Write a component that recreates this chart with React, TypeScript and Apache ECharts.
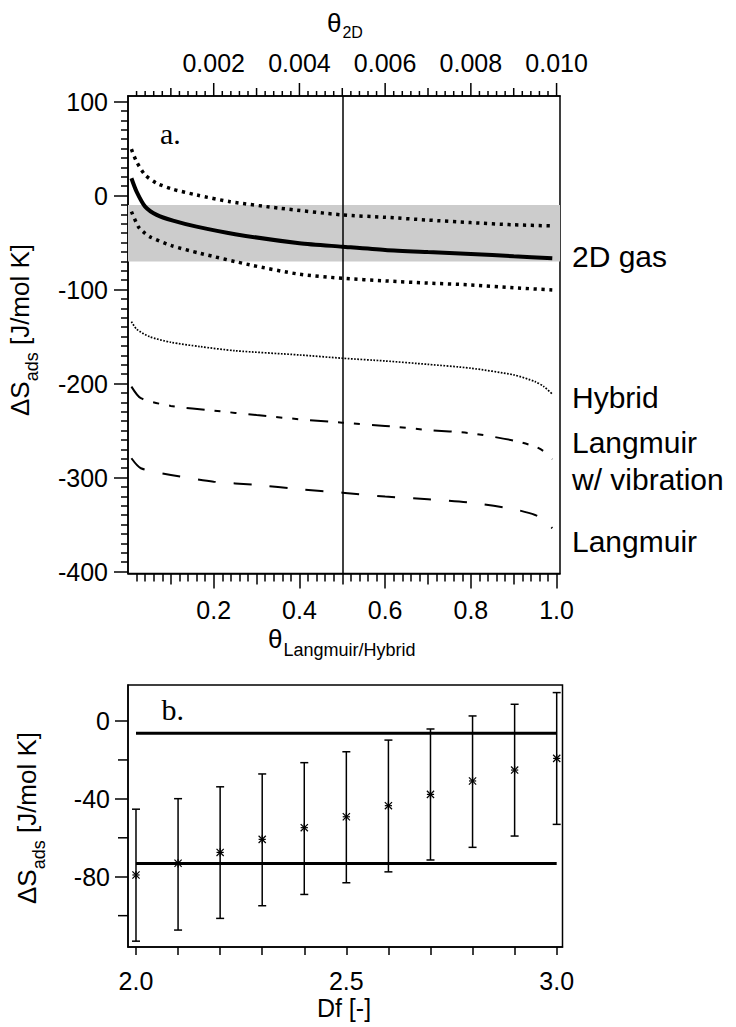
import React, { useEffect, useRef } from 'react';
import * as echarts from 'echarts';

const SANS = "'Liberation Sans', Arial, Helvetica, sans-serif";
const SERIF = "'Liberation Serif', 'Times New Roman', serif";

// ---------- Panel a data ----------
const upperX = [0.008, 0.02, 0.04, 0.067, 0.105, 0.16, 0.238, 0.354, 0.5, 0.6, 0.7, 0.8, 0.9, 0.99];
const upperY = [49.4, 36.2, 22, 13.2, 6.8, 0.7, -6.4, -13.4, -20.5, -23, -26, -28.7, -31, -32.2];

const gasX = [0.008, 0.02, 0.04, 0.067, 0.105, 0.16, 0.25, 0.4, 0.5, 0.6, 0.7, 0.8, 0.9, 0.99];
const gasY = [18.5, 4.3, -11.7, -20.5, -26.6, -33, -41, -50.6, -54.3, -57.8, -60, -62, -64.5, -66.6];

const lowerX = [0.008, 0.024, 0.035, 0.05, 0.1, 0.168, 0.285, 0.4, 0.5, 0.6, 0.7, 0.8, 0.9, 0.99];
const lowerY = [-17, -33, -38.3, -43.6, -53, -61.3, -73.7, -83.6, -87.9, -90.7, -93, -95, -98, -100.3];

const hybridX = [0.008, 0.02, 0.05, 0.1, 0.168, 0.25, 0.4, 0.5, 0.6, 0.7, 0.8, 0.9, 0.95, 0.97, 0.99];
const hybridY = [-134, -142, -150, -156, -160.6, -165, -169.5, -173, -175.9, -179.5, -183.6, -190.7, -197.9, -203, -211];

const vibX = [0.008, 0.03, 0.1, 0.2, 0.3, 0.4, 0.5, 0.6, 0.7, 0.8, 0.9, 0.95, 0.97, 0.99];
const vibY = [-203.2, -215.5, -223.7, -228.7, -233.5, -237.9, -241.5, -245, -249.3, -252.8, -260.6, -267, -272, -280.4];

const langX = [0.008, 0.03, 0.1, 0.2, 0.3, 0.4, 0.5, 0.6, 0.7, 0.8, 0.9, 0.95, 0.97, 0.99];
const langY = [-279.4, -290, -297.1, -304.3, -307.8, -312.3, -316, -320.2, -323, -326.6, -333.6, -339.7, -345, -353.8];

const bandA = [-10, -70];
const markerX = 0.5;

const aBottomTicks = [0.2, 0.4, 0.6, 0.8, 1.0];
const aTopTicks = [0.002, 0.004, 0.006, 0.008, 0.01];
const aLeftTicks = [100, 0, -100, -200, -300, -400];

// ---------- Panel b data ----------
const dfX = [2.0, 2.1, 2.2, 2.3, 2.4, 2.5, 2.6, 2.7, 2.8, 2.9, 3.0];
const bMean = [-79.1, -73.1, -67.5, -60.8, -54.8, -49.2, -43.5, -37.7, -30.8, -25.2, -19.2];
const bHigh = [-45.3, -39.9, -33.8, -27.2, -21.4, -15.8, -9.8, -4.1, 2.6, 8.6, 14.6];
const bLow = [-113.1, -107.4, -101.4, -94.9, -89.1, -83.1, -77.5, -71.4, -64.9, -59.1, -53.1];
const bLines = [-6.3, -73.2];

const bBottomTicks = [2.0, 2.5, 3.0];
const bLeftTicks = [0, -40, -80];
const bLeftMinor = [-20, -60, -100];

function steps(start: number, end: number, step: number, skip: number[] = []) {
  const out: number[] = [];
  const n = Math.round((end - start) / step);
  for (let i = 0; i <= n; i++) {
    const v = +(start + i * step).toFixed(6);
    if (!skip.some((s) => Math.abs(s - v) < 1e-9)) out.push(v);
  }
  return out;
}

const BLACK = '#000';
const mkLine = () => ({ color: BLACK, width: 1.5 });

function tickAxis(gridIndex: number, position: string, min: number, max: number, values: number[], length: number) {
  return {
    type: 'value',
    gridIndex,
    position,
    min,
    max,
    axisLine: { show: false, onZero: false },
    axisTick: { show: true, inside: false, length, customValues: values, lineStyle: mkLine() },
    axisLabel: { show: false },
    splitLine: { show: false },
  };
}

function labelAxis(
  gridIndex: number,
  position: string,
  min: number,
  max: number,
  tickValues: number[],
  labelValues: number[],
  length: number,
  margin: number,
  fmt: (v: number) => string,
  showTick = true
) {
  return {
    type: 'value',
    gridIndex,
    position,
    min,
    max,
    axisLine: { show: true, onZero: false, lineStyle: mkLine() },
    axisTick: { show: showTick, inside: false, length, customValues: tickValues, lineStyle: mkLine() },
    axisLabel: {
      show: true,
      customValues: labelValues,
      formatter: fmt,
      margin,
      fontSize: 25,
      fontFamily: SANS,
      color: BLACK,
    },
    splitLine: { show: false },
  };
}

const pairs = (xs: number[], ys: number[]) => xs.map((x, i) => [x, ys[i]]);

function measure(text: string, font: string): number {
  const ctx = document.createElement('canvas').getContext('2d');
  if (!ctx) return text.length * 12;
  ctx.font = font;
  return ctx.measureText(text).width;
}

function yName(cx: number, cy: number) {
  const mainSize = 26;
  const subSize = 18;
  const p1 = '\u0394S';
  const p2 = 'ads';
  const p3 = ' [J/mol K]';
  const w1 = measure(p1, `${mainSize}px ${SANS}`);
  const w2 = measure(p2, `${subSize}px ${SANS}`);
  const w3 = measure(p3, `${mainSize}px ${SANS}`);
  const total = w1 + w2 + w3;
  const x0 = -total / 2;
  const common = { fill: BLACK, fontFamily: SANS, align: 'left', verticalAlign: 'middle' };
  return {
    type: 'group',
    x: cx,
    y: cy,
    rotation: Math.PI / 2,
    silent: true,
    children: [
      { type: 'text', x: x0, y: 0, style: { ...common, text: p1, fontSize: mainSize } },
      { type: 'text', x: x0 + w1, y: 12, style: { ...common, text: p2, fontSize: subSize } },
      { type: 'text', x: x0 + w1 + w2, y: 0, style: { ...common, text: p3, fontSize: mainSize } },
    ],
  };
}

function txt(text: string, x: number, y: number, size: number, family = SANS, align = 'left') {
  return {
    type: 'text',
    x,
    y,
    silent: true,
    style: { text, fill: BLACK, fontSize: size, fontFamily: family, align, verticalAlign: 'middle' },
  };
}

const GA = { left: 128, top: 96, width: 432, height: 477.5 };
const GB = { left: 128, top: 685, width: 434.5, height: 262 };
const A_XMIN = 0;
const A_XMAX = 1.008;
const A_TMAX = 0.01008;
const A_YMIN = -402;
const A_YMAX = 106;
const B_XMIN = 1.981;
const B_XMAX = 3.0138;
const B_YMIN = -116.1;
const B_YMAX = 18.5;

export default function App() {
  const ref = useRef<HTMLDivElement>(null);

  useEffect(() => {
    if (!ref.current) return;
    const chart = echarts.init(ref.current, undefined, { renderer: 'svg' });

    const frame = { show: true, borderColor: BLACK, borderWidth: 1.5, backgroundColor: 'transparent' };
    const thetaW = measure('\u03B8', `26px ${SANS}`);

    const textGraphics: any[] = [
      // top axis name θ2D
      txt('\u03B8', 327, 22.5, 26, SANS),
      txt('2D', 327 + thetaW + 1, 32.5, 16, SANS),
      // bottom axis name θLangmuir/Hybrid
      txt('\u03B8', 268, 638.5, 26, SANS),
      txt('Langmuir/Hybrid', 268 + thetaW + 1, 650, 18, SANS),
      // y names
      yName(20, 330),
      yName(27, 818),
      // panel letters
      txt('a.', 160, 133, 30, SERIF),
      txt('b.', 161.5, 709, 30, SERIF),
      // right annotations
      txt('2D gas', 572, 256, 30),
      txt('Hybrid', 572, 397.5, 30),
      txt('Langmuir', 572, 442.5, 30),
      txt('w/ vibration', 572, 479, 30),
      txt('Langmuir', 572, 541, 30),
      // Df label
      txt('Df [-]', 344, 1008, 25, SANS, 'center'),
    ];

    const option: any = {
      animation: false,
      backgroundColor: '#fff',
      grid: [
        { ...GA, ...frame },
        { ...GA, show: false },
        { ...GA, show: false },
        { ...GB, ...frame },
      ],
      xAxis: [
        labelAxis(0, 'bottom', A_XMIN, A_XMAX, aBottomTicks, aBottomTicks, 15, 24, (v) => v.toFixed(1)),
        labelAxis(0, 'top', A_XMIN, A_TMAX, aTopTicks, aTopTicks, 13, 21, (v) => v.toFixed(3), false),
        tickAxis(1, 'bottom', A_XMIN, A_XMAX, steps(0.1, 0.9, 0.2), 11),
        tickAxis(2, 'bottom', A_XMIN, A_XMAX, steps(0.02, 1.0, 0.02, steps(0.1, 1.0, 0.1)), 8),
        labelAxis(3, 'bottom', B_XMIN, B_XMAX, steps(2.0, 3.0, 0.1), bBottomTicks, 8, 21.5, (v) => v.toFixed(1)),
      ],
      yAxis: [
        labelAxis(0, 'left', A_YMIN, A_YMAX, aLeftTicks, aLeftTicks, 14, 20, (v) => String(v)),
        tickAxis(1, 'left', A_YMIN, A_YMAX, steps(-390, 90, 10, aLeftTicks), 7),
        tickAxis(2, 'left', A_YMIN, A_YMAX, [], 0),
        labelAxis(3, 'left', B_YMIN, B_YMAX, bLeftTicks, bLeftTicks, 13, 18, (v) => String(v)),
      ],
      series: [
        {
          type: 'line',
          xAxisIndex: 0,
          yAxisIndex: 0,
          data: [],
          z: 1,
          markArea: {
            silent: true,
            itemStyle: { color: '#cccccc' },
            data: [[{ yAxis: bandA[0] }, { yAxis: bandA[1] }]],
          },
        },
        {
          type: 'line',
          xAxisIndex: 0,
          yAxisIndex: 0,
          data: pairs(upperX, upperY),
          showSymbol: false,
          smooth: 0.25,
          z: 3,
          lineStyle: { color: BLACK, width: 3.5, type: [3.2, 4.6], cap: 'butt' },
        },
        {
          type: 'line',
          xAxisIndex: 0,
          yAxisIndex: 0,
          data: pairs(lowerX, lowerY),
          showSymbol: false,
          smooth: 0.25,
          z: 3,
          lineStyle: { color: BLACK, width: 3.5, type: [3.2, 4.6], cap: 'butt' },
        },
        {
          type: 'line',
          xAxisIndex: 0,
          yAxisIndex: 0,
          data: pairs(gasX, gasY),
          showSymbol: false,
          smooth: 0.25,
          z: 4,
          lineStyle: { color: BLACK, width: 4 },
          markLine: {
            silent: true,
            symbol: ['none', 'none'],
            label: { show: false },
            lineStyle: { color: BLACK, width: 1.5, type: 'solid' },
            data: [{ xAxis: markerX }],
          },
        },
        {
          type: 'line',
          xAxisIndex: 0,
          yAxisIndex: 0,
          data: pairs(hybridX, hybridY),
          showSymbol: false,
          smooth: 0.25,
          z: 3,
          lineStyle: { color: BLACK, width: 1.7, type: [1.7, 1.5], cap: 'butt' },
        },
        {
          type: 'line',
          xAxisIndex: 0,
          yAxisIndex: 0,
          data: pairs(vibX, vibY),
          showSymbol: false,
          smooth: 0.25,
          z: 3,
          lineStyle: { color: BLACK, width: 2, type: [18, 10, 6, 10, 6, 12], cap: 'butt' },
        },
        {
          type: 'line',
          xAxisIndex: 0,
          yAxisIndex: 0,
          data: pairs(langX, langY),
          showSymbol: false,
          smooth: 0.25,
          z: 3,
          lineStyle: { color: BLACK, width: 2, type: [18, 18], cap: 'butt' },
        },
        // Panel b
        ...bLines.map((yv) => ({
          type: 'line',
          xAxisIndex: 4,
          yAxisIndex: 3,
          data: dfX.map((x) => [x, yv]),
          showSymbol: false,
          z: 3,
          lineStyle: { color: BLACK, width: 3.2 },
        })),
        {
          type: 'custom',
          xAxisIndex: 4,
          yAxisIndex: 3,
          z: 5,
          clip: false,
          data: dfX.map((x, i) => [x, bLow[i], bHigh[i], bMean[i]]),
          renderItem: (params: any, api: any) => {
            const x = api.value(0);
            const pLo = api.coord([x, api.value(1)]);
            const pHi = api.coord([x, api.value(2)]);
            const pM = api.coord([x, api.value(3)]);
            const cap = 4;
            const s = 3.6;
            const st = { stroke: BLACK, lineWidth: 1.5 };
            const st2 = { stroke: BLACK, lineWidth: 1.2 };
            const line = (x1: number, y1: number, x2: number, y2: number, style: any) => ({
              type: 'line',
              shape: { x1, y1, x2, y2 },
              style,
            });
            return {
              type: 'group',
              children: [
                line(pLo[0], pLo[1], pHi[0], pHi[1], st),
                line(pLo[0] - cap, pLo[1], pLo[0] + cap, pLo[1], st),
                line(pHi[0] - cap, pHi[1], pHi[0] + cap, pHi[1], st),
                line(pM[0] - s, pM[1] - s, pM[0] + s, pM[1] + s, st2),
                line(pM[0] - s, pM[1] + s, pM[0] + s, pM[1] - s, st2),
                line(pM[0] - s, pM[1], pM[0] + s, pM[1], st2),
                line(pM[0], pM[1] - s - 0.5, pM[0], pM[1] + s + 0.5, st2),
              ],
            };
          },
        },
      ],
      graphic: { elements: textGraphics },
    };

    chart.setOption(option);

    // Ticks the axes cannot draw themselves: positioned through the axes' own scales.
    const tickGraphics: any[] = [];
    const tickStyle = { stroke: BLACK, lineWidth: 1.5 };
    const topY = chart.convertToPixel({ yAxisIndex: 0 } as any, A_YMAX) as number;
    const topTicks: [number, number][] = [
      ...aTopTicks.map((v) => [v, 13] as [number, number]),
      ...steps(0.001, 0.009, 0.002).map((v) => [v, 8] as [number, number]),
      ...steps(0.0002, 0.01, 0.0002, steps(0.001, 0.01, 0.001)).map((v) => [v, 5] as [number, number]),
    ];
    topTicks.forEach(([v, len]) => {
      const px = chart.convertToPixel({ xAxisIndex: 1 } as any, v) as number;
      if (typeof px === 'number' && isFinite(px) && isFinite(topY)) {
        tickGraphics.push({
          type: 'line',
          silent: true,
          z: 100,
          shape: { x1: px, y1: topY, x2: px, y2: topY - len },
          style: tickStyle,
        });
      }
    });
    const bLeftX = chart.convertToPixel({ xAxisIndex: 4 } as any, B_XMIN) as number;
    bLeftMinor.forEach((v) => {
      const py = chart.convertToPixel({ yAxisIndex: 3 } as any, v) as number;
      if (typeof py === 'number' && isFinite(py) && isFinite(bLeftX)) {
        tickGraphics.push({
          type: 'line',
          silent: true,
          z: 100,
          shape: { x1: bLeftX, y1: py, x2: bLeftX - 10, y2: py },
          style: tickStyle,
        });
      }
    });
    chart.setOption({ graphic: { elements: [...textGraphics, ...tickGraphics] } });

    return () => {
      chart.dispose();
    };
  }, []);

  return (
    <div
      ref={ref}
      style={{ position: 'absolute', left: 0, top: 0, width: 736, height: 1027, background: '#fff' }}
    />
  );
}
